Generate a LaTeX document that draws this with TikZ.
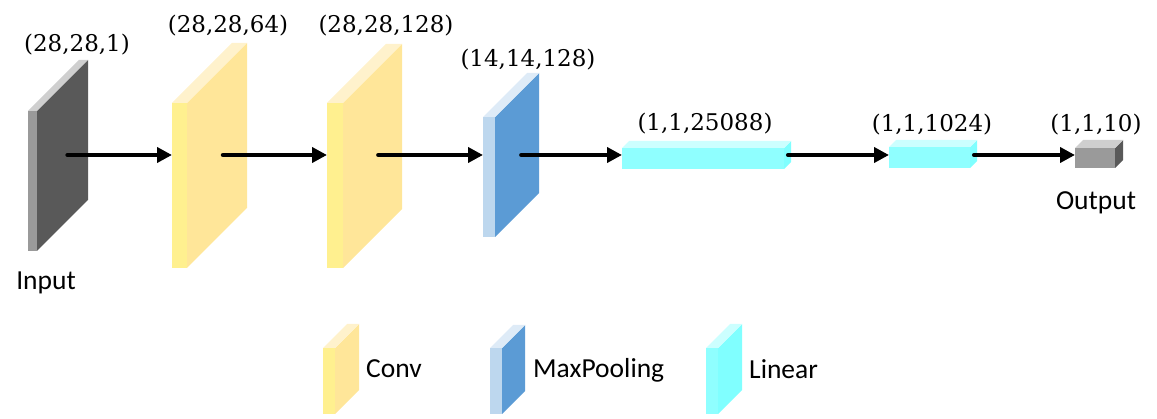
\documentclass[tikz,border=0pt]{standalone}
\usepackage[dvipsnames]{xcolor}
\usepackage{fontspec}
\usepackage{tikz}
\usetikzlibrary{arrows.meta}
\setmainfont{DejaVu Serif}
\newfontfamily\labelfont{Carlito}

\definecolor{greyFront}{HTML}{9A9A9A}
\definecolor{greySide}{HTML}{595959}
\definecolor{greyTop}{HTML}{CFCFCF}
\definecolor{convFront}{HTML}{FFF08F}
\definecolor{convSide}{HTML}{FFE699}
\definecolor{convTop}{HTML}{FFF2CC}
\definecolor{poolFront}{HTML}{BDD7EE}
\definecolor{poolSide}{HTML}{5B9BD5}
\definecolor{poolTop}{HTML}{DEEBF7}
\definecolor{linFront}{HTML}{8FFFFF}
\definecolor{linSide}{HTML}{80FFFF}
\definecolor{linTop}{HTML}{CCFFFF}

% #1 name, #2 x, #3 y, #4 width, #5 height, #6 depth, #7 colour
\newcommand{\layerblock}[7]{%
  \fill[#7Front] (#2,#3) rectangle ++(#4,#5);
  \fill[#7Side] (#2+#4,#3) -- ++(#6,-#6) -- ++(0,#5) -- ++(-#6,#6) -- cycle;
  \fill[#7Top] (#2,#3) -- ++(#6,-#6) -- ++(#4,0) -- ++(-#6,#6) -- cycle;
  \coordinate (#1-in) at (#2,155);
  \coordinate (#1-out) at (#2+#4+0.6*#6,155);
}

\tikzset{
  flow/.style={line width=4.5pt, line cap=round, -{Triangle[length=15pt,width=15pt]}},
  dims/.style={font=\fontsize{23}{26}\selectfont, inner sep=0pt, anchor=base},
  tag/.style={font=\labelfont\fontsize{27.5}{30}\selectfont, inner sep=0pt, anchor=base}
}

\begin{document}
\begin{tikzpicture}[x=1pt,y=-1pt]
    \useasboundingbox (0,0) rectangle (1157,419);

    % network
    \layerblock{input}{28}{111}{9}{140}{51}{grey}
    \layerblock{conv1}{172}{103}{15}{165}{60}{conv}
    \layerblock{conv2}{327}{103}{16}{165}{59}{conv}
    \layerblock{pool}{483}{117}{12}{120}{44}{pool}
    \layerblock{lin1}{622}{148}{162}{21}{7}{lin}
    \layerblock{lin2}{889}{147}{81}{21}{7}{lin}
    \layerblock{output}{1075}{148}{40}{20}{8}{grey}

    \draw[flow] (input-out) -- (conv1-in);
    \draw[flow] (conv1-out) -- (conv2-in);
    \draw[flow] (conv2-out) -- (pool-in);
    \draw[flow] (pool-out) -- (lin1-in);
    \draw[flow] (lin1-out) -- (lin2-in);
    \draw[flow] (lin2-out) -- (output-in);

    \node[dims] (dimInput) at (77,52) {(28,28,1)};
    \node[dims] (dimConv1) at (228,33) {(28,28,64)};
    \node[dims] (dimConv2) at (386,33) {(28,28,128)};
    \node[dims] (dimPool) at (528,67) {(14,14,128)};
    \node[dims] (dimLin1) at (705,131) {(1,1,25088)};
    \node[dims] (dimLin2) at (932,132) {(1,1,1024)};
    \node[dims] (dimOutput) at (1096,132) {(1,1,10)};
    \node[tag] (txtInput) at (46,290) {Input};
    \node[tag] (txtOutput) at (1096,210) {Output};

    % legend
    \layerblock{legConv}{323}{348}{12}{66}{24}{conv}
    \layerblock{legPool}{490}{348}{12}{66}{23}{pool}
    \layerblock{legLin}{706}{348}{12}{66}{24}{lin}
    \node[tag,anchor=base west] (txtConv) at (366,378) {Conv};
    \node[tag,anchor=base west] (txtPool) at (533,378) {MaxPooling};
    \node[tag,anchor=base west] (txtLin) at (749,379) {Linear};
\end{tikzpicture}
\end{document}
